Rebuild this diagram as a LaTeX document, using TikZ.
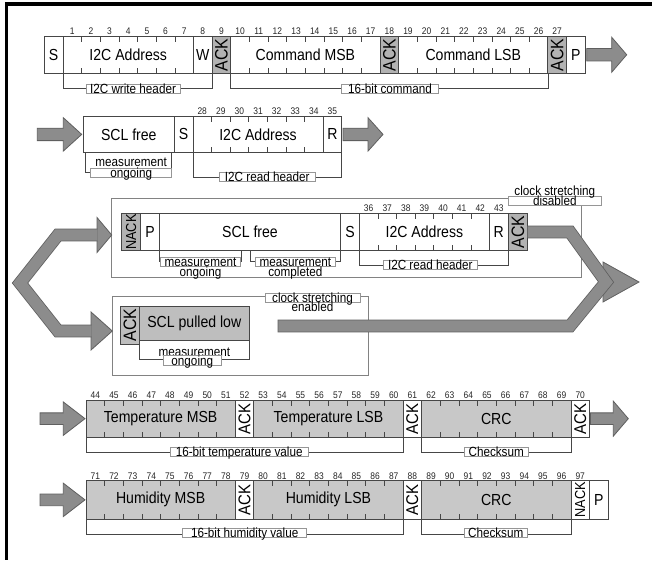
\documentclass[tikz,border=0pt]{standalone}
\usepackage{fontspec}
\setmainfont[FakeStretch=0.88]{Liberation Sans}
\definecolor{segline}{RGB}{70,70,70}
\definecolor{lblline}{RGB}{150,150,150}
\definecolor{frmline}{RGB}{130,130,130}
\definecolor{ackgray}{RGB}{178,178,178}
\definecolor{boxgray}{RGB}{200,200,200}
\definecolor{lowgray}{RGB}{190,190,190}
\definecolor{arrfill}{RGB}{140,140,140}
\definecolor{arrline}{RGB}{95,95,95}
\newcommand\dgBig{\fontsize{16}{16}\selectfont}
\newcommand\dgAck{\fontsize{18}{18}\selectfont}
\newcommand\dgNack{\fontsize{14.5}{14.5}\selectfont}
\newcommand\dgNum{\fontsize{9.6}{9.6}\selectfont}
\newcommand\dgLbl{\fontsize{13.3}{13.3}\selectfont}
% box: [style]{name}{x1}{x2}{y1}{y2}{text}
\newcommand\bx[7][]{\node[seg,#1,minimum width={#4pt-#3pt},minimum height={#6pt-#5pt}] (#2) at ({(#3+#4)/2},{(#5+#6)/2}) {#7};}
\newcommand\vbx[7][]{\node[seg,font=\dgAck,rotate=90,#1,minimum height={#4pt-#3pt},minimum width={#6pt-#5pt}] (#2) at ({(#3+#4)/2},{(#5+#6)/2}) {#7};}
% straight block arrow: {xs}{xb}{xt}{yc}{half shaft}{half head}
\newcommand\harr[6]{\draw[arr] (#1,{#4-#5}) -- (#2,{#4-#5}) -- (#2,{#4-#6}) -- (#3,#4) -- (#2,{#4+#6}) -- (#2,{#4+#5}) -- (#1,{#4+#5}) -- cycle;}
\begin{document}
\begin{tikzpicture}[x=1pt,y=-1pt,
  seg/.style={draw=segline,line width=0.8pt,inner sep=0pt,outer sep=0pt,font=\dgBig,text=black},
  num/.style={inner sep=0pt,font=\dgNum,text=black!85},
  tk/.style={draw=segline,line width=0.7pt},
  brk/.style={draw=segline,line width=0.7pt},
  lbl/.style={draw=lblline,fill=white,line width=0.5pt,inner xsep=2pt,inner ysep=0pt,text height=9.3pt,text depth=0pt,font=\dgLbl,anchor=base},
  ltxt/.style={inner sep=0pt,font=\dgLbl,anchor=base},
  frm/.style={draw=frmline,line width=0.8pt,inner sep=0pt,outer sep=0pt},
  arr/.style={fill=arrfill,draw=arrline,line width=0.8pt,line join=miter},
  band/.style={arrline,line width=12.8pt,line join=miter},
  bandin/.style={arrfill,line width=11.2pt,line join=miter}]
\useasboundingbox (0,0) rectangle (652,560);
\fill[white] (0,0) rectangle (652,560);
\draw[black,line width=3.5pt] (4.8,3.8) -- (652,3.8);
\draw[black,line width=3.3pt] (6.5,2) -- (6.5,560);

% ---------- Row 1 ----------
\bx{s1}{44.3}{62.95}{36.5}{73}{S}
\bx{adr1}{62.95}{193.5}{36.5}{73}{I2C Address}
\bx{w1}{193.5}{212.15}{36.5}{73}{W}
\vbx[fill=ackgray]{ack1}{212.15}{230.8}{36.5}{73}{ACK}
\bx{cmsb}{230.8}{380}{36.5}{73}{Command MSB}
\vbx[fill=ackgray]{ack2}{380}{398.65}{36.5}{73}{ACK}
\bx{clsb}{398.65}{547.85}{36.5}{73}{Command LSB}
\vbx[fill=ackgray]{ack3}{547.85}{566.5}{36.5}{73}{ACK}
\bx{p1}{566.5}{585.15}{36.5}{73}{P}
\foreach \k in {1,...,27} \node[num] (n\k) at ({44.3+(\k+0.5)*18.65},31.5) {\k};
\foreach \k in {2,...,7} \draw[tk] ({44.3+\k*18.65},36.5) -- ++(0,5.5) ({44.3+\k*18.65},73) -- ++(0,-5.5);
\foreach \k in {11,...,17} \draw[tk] ({44.3+\k*18.65},36.5) -- ++(0,5.5) ({44.3+\k*18.65},73) -- ++(0,-5.5);
\foreach \k in {20,...,26} \draw[tk] ({44.3+\k*18.65},36.5) -- ++(0,5.5) ({44.3+\k*18.65},73) -- ++(0,-5.5);
\draw[brk] (adr1.south west) -- ++(0,15.3) -| (w1.south east);
\node[lbl,minimum width=94pt] (h1) at (133,93.3) {I2C write header};
\draw[brk] (cmsb.south west) -- ++(0,15.3) -| (clsb.south east);
\node[lbl,minimum width=96.6pt] (h2) at (390,93.3) {16-bit command};
\harr{586.7}{611.7}{626.7}{54.75}{6.2}{17.5}

% ---------- Row 2 ----------
\harr{37.3}{63.3}{81.7}{134.4}{6.2}{16.7}
\bx{scl2}{83.3}{174.3}{116}{152.7}{SCL free}
\bx{s2}{174.3}{192.9}{116}{152.7}{S}
\bx{adr2}{192.9}{323.1}{116}{152.7}{I2C Address}
\bx{r2}{323.1}{341.7}{116}{152.7}{R}
\foreach \k [evaluate=\k as \lab using int(28+\k)] in {0,...,7} \node[num] (n\lab) at ({192.9+(\k+0.5)*18.6},111.2) {\lab};
\foreach \k in {1,...,6} \draw[tk] ({192.9+\k*18.6},116) -- ++(0,5.5) ({192.9+\k*18.6},152.7) -- ++(0,-5.5);
\draw[brk] ([xshift=1.7pt]scl2.south west) -- ++(0,19.8) -| ([xshift=-2.6pt]scl2.south east);
\node[lbl,minimum width=81pt] (h3) at (131.2,177.3) {ongoing};
\node[ltxt] (h3b) at (131.2,166.5) {measurement};
\draw[brk] (adr2.south west) -- ++(0,24.3) -| (r2.south east);
\node[lbl,minimum width=95.7pt] (h4) at (267.2,181.7) {I2C read header};
\harr{343}{368}{383}{134.4}{6.2}{16.7}

% ---------- Row 3 (two branches) ----------
\bx[frm]{fr1}{111.7}{581.7}{198.3}{277.3}{}
\bx[frm]{fr2}{112.3}{368.3}{296}{375.7}{}
\vbx[fill=ackgray,font=\dgNack]{nack3}{121.7}{140.7}{213.3}{250.7}{NACK}
\bx{p3}{140.7}{159.3}{213.3}{250.7}{P}
\bx{scl3}{159.3}{340.7}{213.3}{250.7}{SCL free}
\bx{s3}{340.7}{359.3}{213.3}{250.7}{S}
\bx{adr3}{359.3}{489.5}{213.3}{250.7}{I2C Address}
\bx{r3}{489.5}{508.1}{213.3}{250.7}{R}
\vbx[fill=ackgray]{ack4}{508.1}{527.7}{213.3}{250.7}{ACK}
\foreach \k [evaluate=\k as \lab using int(36+\k)] in {0,...,7} \node[num] (n\lab) at ({359.3+(\k+0.5)*18.6},208.3) {\lab};
\foreach \k in {1,...,6} \draw[tk] ({359.3+\k*18.6},213.3) -- ++(0,5.5) ({359.3+\k*18.6},250.7) -- ++(0,-5.5);
\draw[brk] (scl3.south west) -- ++(0,11) -| ([xshift=82.4pt]scl3.south west);
\draw[brk] ([xshift=90.7pt]scl3.south west) -- ++(0,11) -| (scl3.south east);
\node[lbl,minimum width=80pt] (h5) at (200.5,266.3) {measurement};
\node[ltxt] (h5b) at (200.5,276.3) {ongoing};
\node[lbl,minimum width=80pt] (h6) at (295.3,266.3) {measurement};
\node[ltxt] (h6b) at (295.3,276.3) {completed};
\draw[brk] (adr3.south west) -- ++(0,14.3) -| (r3.south east);
\node[lbl,minimum width=94pt] (h7) at (430.3,269.7) {I2C read header};
\node[lbl,minimum width=93.7pt] (h8) at (554.8,205.7) {disabled};
\node[ltxt] (h8b) at (554.8,195.5) {clock stretching};

\vbx[fill=lowgray]{ack5}{120.7}{139.3}{306}{344}{ACK}
\bx[fill=lowgray]{scl5}{139.3}{249.3}{306}{340.7}{SCL pulled low}
\draw[brk] (scl5.south west) -- ++(0,18.6) -| (scl5.south east);
\node[ltxt] (h9b) at (194.3,356) {measurement};
\node[lbl,minimum width=58.7pt] (h9) at (192.3,365) {ongoing};
\node[lbl,minimum width=95pt] (h10) at (312.5,302.6) {clock stretching};
\node[ltxt] (h10b) at (312.5,311.5) {enabled};

% left split arrow
\fill[arrfill,draw=arrline,line width=0.8pt,line join=miter] (97,217.5) -- (111.7,235) -- (97,252.5) -- cycle;
\fill[arrfill,draw=arrline,line width=0.8pt,line join=miter] (91,312) -- (112.3,331) -- (91,350) -- cycle;
\draw[band] (97.5,235) -- (58,235) -- (20,283) -- (58,331) -- (91.5,331);
\draw[bandin] (97.5,235) -- (58,235) -- (20,283) -- (58,331) -- (91.5,331);
% right merge arrow
\fill[arrfill,draw=arrline,line width=0.8pt,line join=miter] (603,262) -- (639,282) -- (603,302) -- cycle;
\draw[band] (527.7,232) -- (570,232) -- (606,282) -- (570,326) -- (277.5,326);
\draw[bandin] (527.7,232) -- (570,232) -- (606,282) -- (570,326) -- (278.3,326);

% ---------- Row 4 ----------
\harr{40}{63.3}{85}{418.65}{5.8}{16.7}
\bx[fill=boxgray]{tmsb}{86}{235.2}{400}{437.3}{Temperature MSB}
\vbx[font=\fontsize{17}{17}\selectfont]{ack6}{235.2}{253.85}{400}{437.3}{ACK}
\bx[fill=boxgray]{tlsb}{253.85}{403.05}{400}{437.3}{Temperature LSB}
\vbx[font=\fontsize{17}{17}\selectfont]{ack7}{403.05}{421.7}{400}{437.3}{ACK}
\bx[fill=boxgray]{crc1}{421.7}{570.9}{400}{437.3}{CRC}
\vbx[font=\fontsize{17}{17}\selectfont]{ack8}{570.9}{589.55}{400}{437.3}{ACK}
\foreach \k [evaluate=\k as \lab using int(44+\k)] in {0,...,26} \node[num] (n\lab) at ({86+(\k+0.5)*18.65},395.2) {\lab};
\foreach \k in {1,...,7,10,11,12,13,14,15,16,19,20,21,22,23,24,25} \draw[tk] ({86+\k*18.65},400) -- ++(0,5.5) ({86+\k*18.65},437.3) -- ++(0,-5.5);
\draw[brk] (tmsb.south west) -- ++(0,15) -| (tlsb.south east);
\node[lbl,minimum width=138.3pt] (h11) at (239.2,456.7) {16-bit temperature value};
\draw[brk] (crc1.south west) -- ++(0,15) -| (crc1.south east);
\node[lbl,minimum width=64.3pt] (h12) at (496.2,456.7) {Checksum};
\harr{590.5}{613.3}{628.3}{418.65}{5.8}{17.5}

% ---------- Row 5 ----------
\harr{40}{63.3}{85}{499.85}{5.8}{16.7}
\bx[fill=boxgray]{hmsb}{86}{235.2}{480.7}{519}{Humidity MSB}
\vbx[font=\fontsize{17}{17}\selectfont]{ack9}{235.2}{253.85}{480.7}{519}{ACK}
\bx[fill=boxgray]{hlsb}{253.85}{403.05}{480.7}{519}{Humidity LSB}
\vbx[font=\fontsize{17}{17}\selectfont]{ack10}{403.05}{421.7}{480.7}{519}{ACK}
\bx[fill=boxgray]{crc2}{421.7}{570.9}{480.7}{519}{CRC}
\vbx[font=\dgNack]{nack11}{570.9}{589.55}{480.7}{519}{NACK}
\bx{p11}{589.55}{608.2}{480.7}{519}{P}
\foreach \k [evaluate=\k as \lab using int(71+\k)] in {0,...,26} \node[num] (n\lab) at ({86+(\k+0.5)*18.65},475.8) {\lab};
\foreach \k in {1,...,7,10,11,12,13,14,15,16,19,20,21,22,23,24,25} \draw[tk] ({86+\k*18.65},480.7) -- ++(0,5.5) ({86+\k*18.65},519) -- ++(0,-5.5);
\draw[brk] (hmsb.south west) -- ++(0,15) -| (hlsb.south east);
\node[lbl,minimum width=124pt] (h13) at (244.7,537.5) {16-bit humidity value};
\draw[brk] (crc2.south west) -- ++(0,15) -| (crc2.south east);
\node[lbl,minimum width=63.3pt] (h14) at (495.7,537.5) {Checksum};
\end{tikzpicture}
\end{document}
